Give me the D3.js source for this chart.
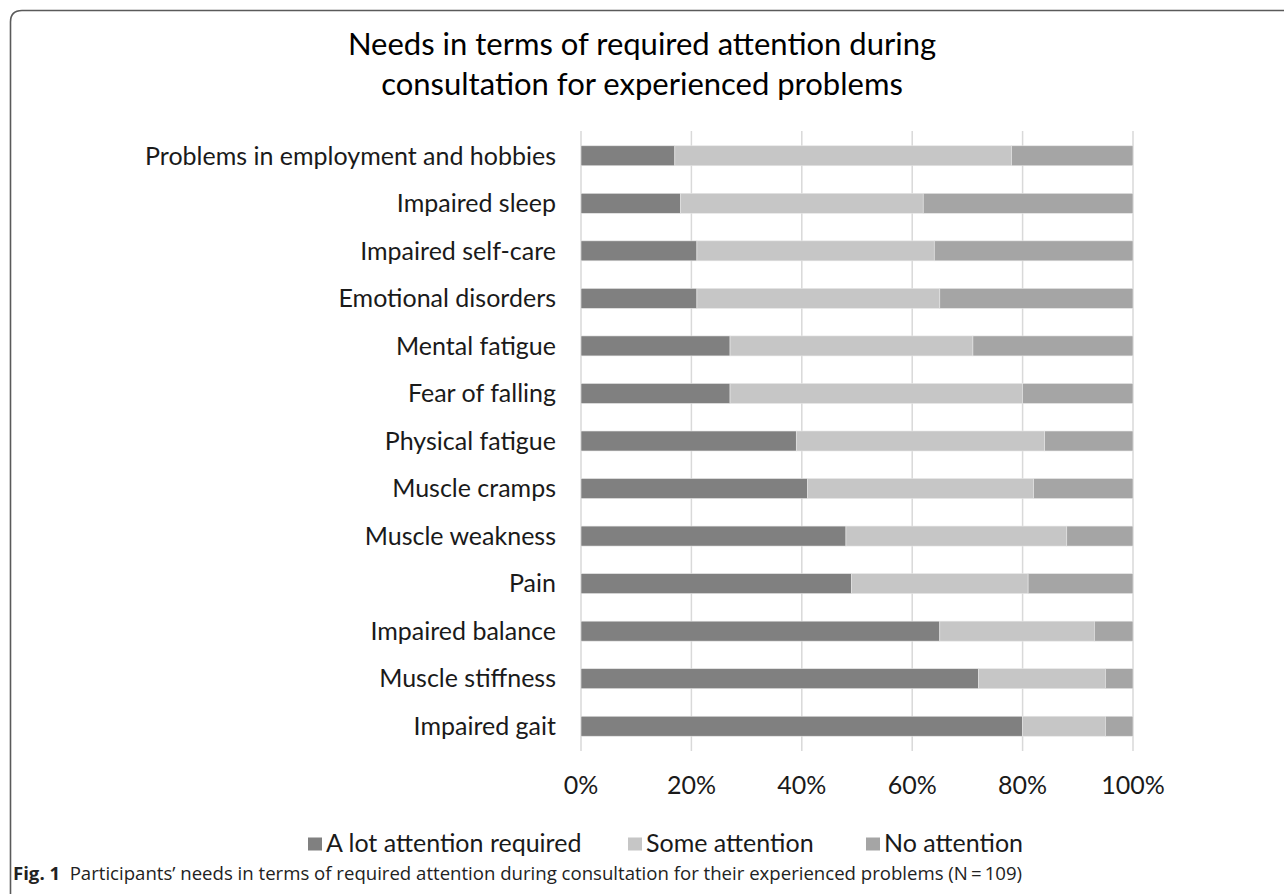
<!DOCTYPE html>
<html><head><meta charset="utf-8">
<script src="https://cdn.jsdelivr.net/npm/d3@7"></script>
<style>body{margin:0;background:#fff}svg{display:block}</style>
</head><body>
<svg id="c" width="1284" height="894"></svg>
<script>
const categories = ["Problems in employment and hobbies","Impaired sleep","Impaired self-care","Emotional disorders","Mental fatigue","Fear of falling","Physical fatigue","Muscle cramps","Muscle weakness","Pain","Impaired balance","Muscle stiffness","Impaired gait"];
const aLot = [17,18,21,21,27,27,39,41,48,49,65,72,80];
const some = [61,44,43,44,44,53,45,41,40,32,28,23,15];
const none = [22,38,36,35,29,20,16,18,12,19,7,5,5];
const seriesNames = ["A lot attention required","Some attention","No attention"];
const colors = ["#808080","#c6c6c6","#a5a5a5"];
const xTicks = [0,20,40,60,80,100];
const titleLines = ["Needs in terms of required attention during","consultation for experienced problems"];
const caption = "Participants\u2019 needs in terms of required attention during consultation for their experienced problems (N\u2009=\u2009109)";

const svg = d3.select("#c");
const font = "Lato, 'Open Sans', sans-serif";

// frame
svg.append("path").attr("d","M10.5,900 L10.5,22 Q10.5,10.5 22,10.5 L1300,10.5")
  .attr("fill","none").attr("stroke","#5a5a5a").attr("stroke-width",1.6);

// title
svg.append("g").selectAll("text").data(titleLines).join("text")
  .attr("x",642).attr("y",(d,i)=>55+i*40).attr("text-anchor","middle")
  .attr("font-family",font).attr("font-size",31).attr("fill","#000").text(d=>d);

const x = d3.scaleLinear().domain([0,100]).range([581,1133]);
const y = d3.scaleBand().domain(categories).range([132,750]).paddingInner(0.58).paddingOuter(0.29);

// gridlines
svg.append("g").selectAll("line").data(xTicks).join("line")
  .attr("x1",d=>x(d)).attr("x2",d=>x(d)).attr("y1",131).attr("y2",751)
  .attr("stroke","#d9d9d9").attr("stroke-width",1.5);

const stackData = categories.map((c,i)=>{
  const o={cat:c}; const v=[aLot[i],some[i],none[i]];
  seriesNames.forEach((s,k)=>o[s]=v[k]); return o;
});
const stacked = d3.stack().keys(seriesNames)(stackData);

svg.append("g").selectAll("g").data(stacked).join("g")
  .attr("fill",(d,i)=>colors[i])
  .selectAll("rect").data(d=>d).join("rect")
  .attr("x",d=>x(d[0])).attr("width",d=>x(d[1])-x(d[0]))
  .attr("y",d=>y(d.data.cat)).attr("height",y.bandwidth())
  .attr("stroke","#e6e6e6").attr("stroke-width",0.6);

// y labels
svg.append("g").selectAll("text").data(categories).join("text")
  .attr("x",556).attr("y",d=>y(d)+y.bandwidth()/2).attr("dy","0.35em")
  .attr("text-anchor","end").attr("font-family",font).attr("font-size",25).attr("fill","#1a1a1a").text(d=>d);

// x tick labels
svg.append("g").selectAll("text").data(xTicks).join("text")
  .attr("x",d=>x(d)).attr("y",785).attr("dy","0.35em").attr("text-anchor","middle")
  .attr("font-family",font).attr("font-size",25).attr("fill","#1a1a1a").text(d=>d+"%");

// legend
const legX = [308,628,866];
const lg = svg.append("g").selectAll("g").data(seriesNames).join("g")
  .attr("transform",(d,i)=>`translate(${legX[i]},844)`);
lg.append("rect").attr("x",0).attr("y",-6.5).attr("width",14).attr("height",13).attr("fill",(d,i)=>colors[i]);
lg.append("text").attr("x",18).attr("dy","0.33em").attr("font-family",font).attr("font-size",25).attr("fill","#1a1a1a").text(d=>d);

// caption
const cap = svg.append("text").attr("x",13).attr("y",880)
  .attr("font-family","'Open Sans', 'Noto Sans', sans-serif").attr("font-size",17.5).attr("fill","#222")
  .attr("textLength",1009).attr("lengthAdjust","spacingAndGlyphs");
cap.append("tspan").attr("font-weight","bold").text("Fig. 1");
cap.append("tspan").attr("dx",9).text(caption);
</script>
</body></html>
